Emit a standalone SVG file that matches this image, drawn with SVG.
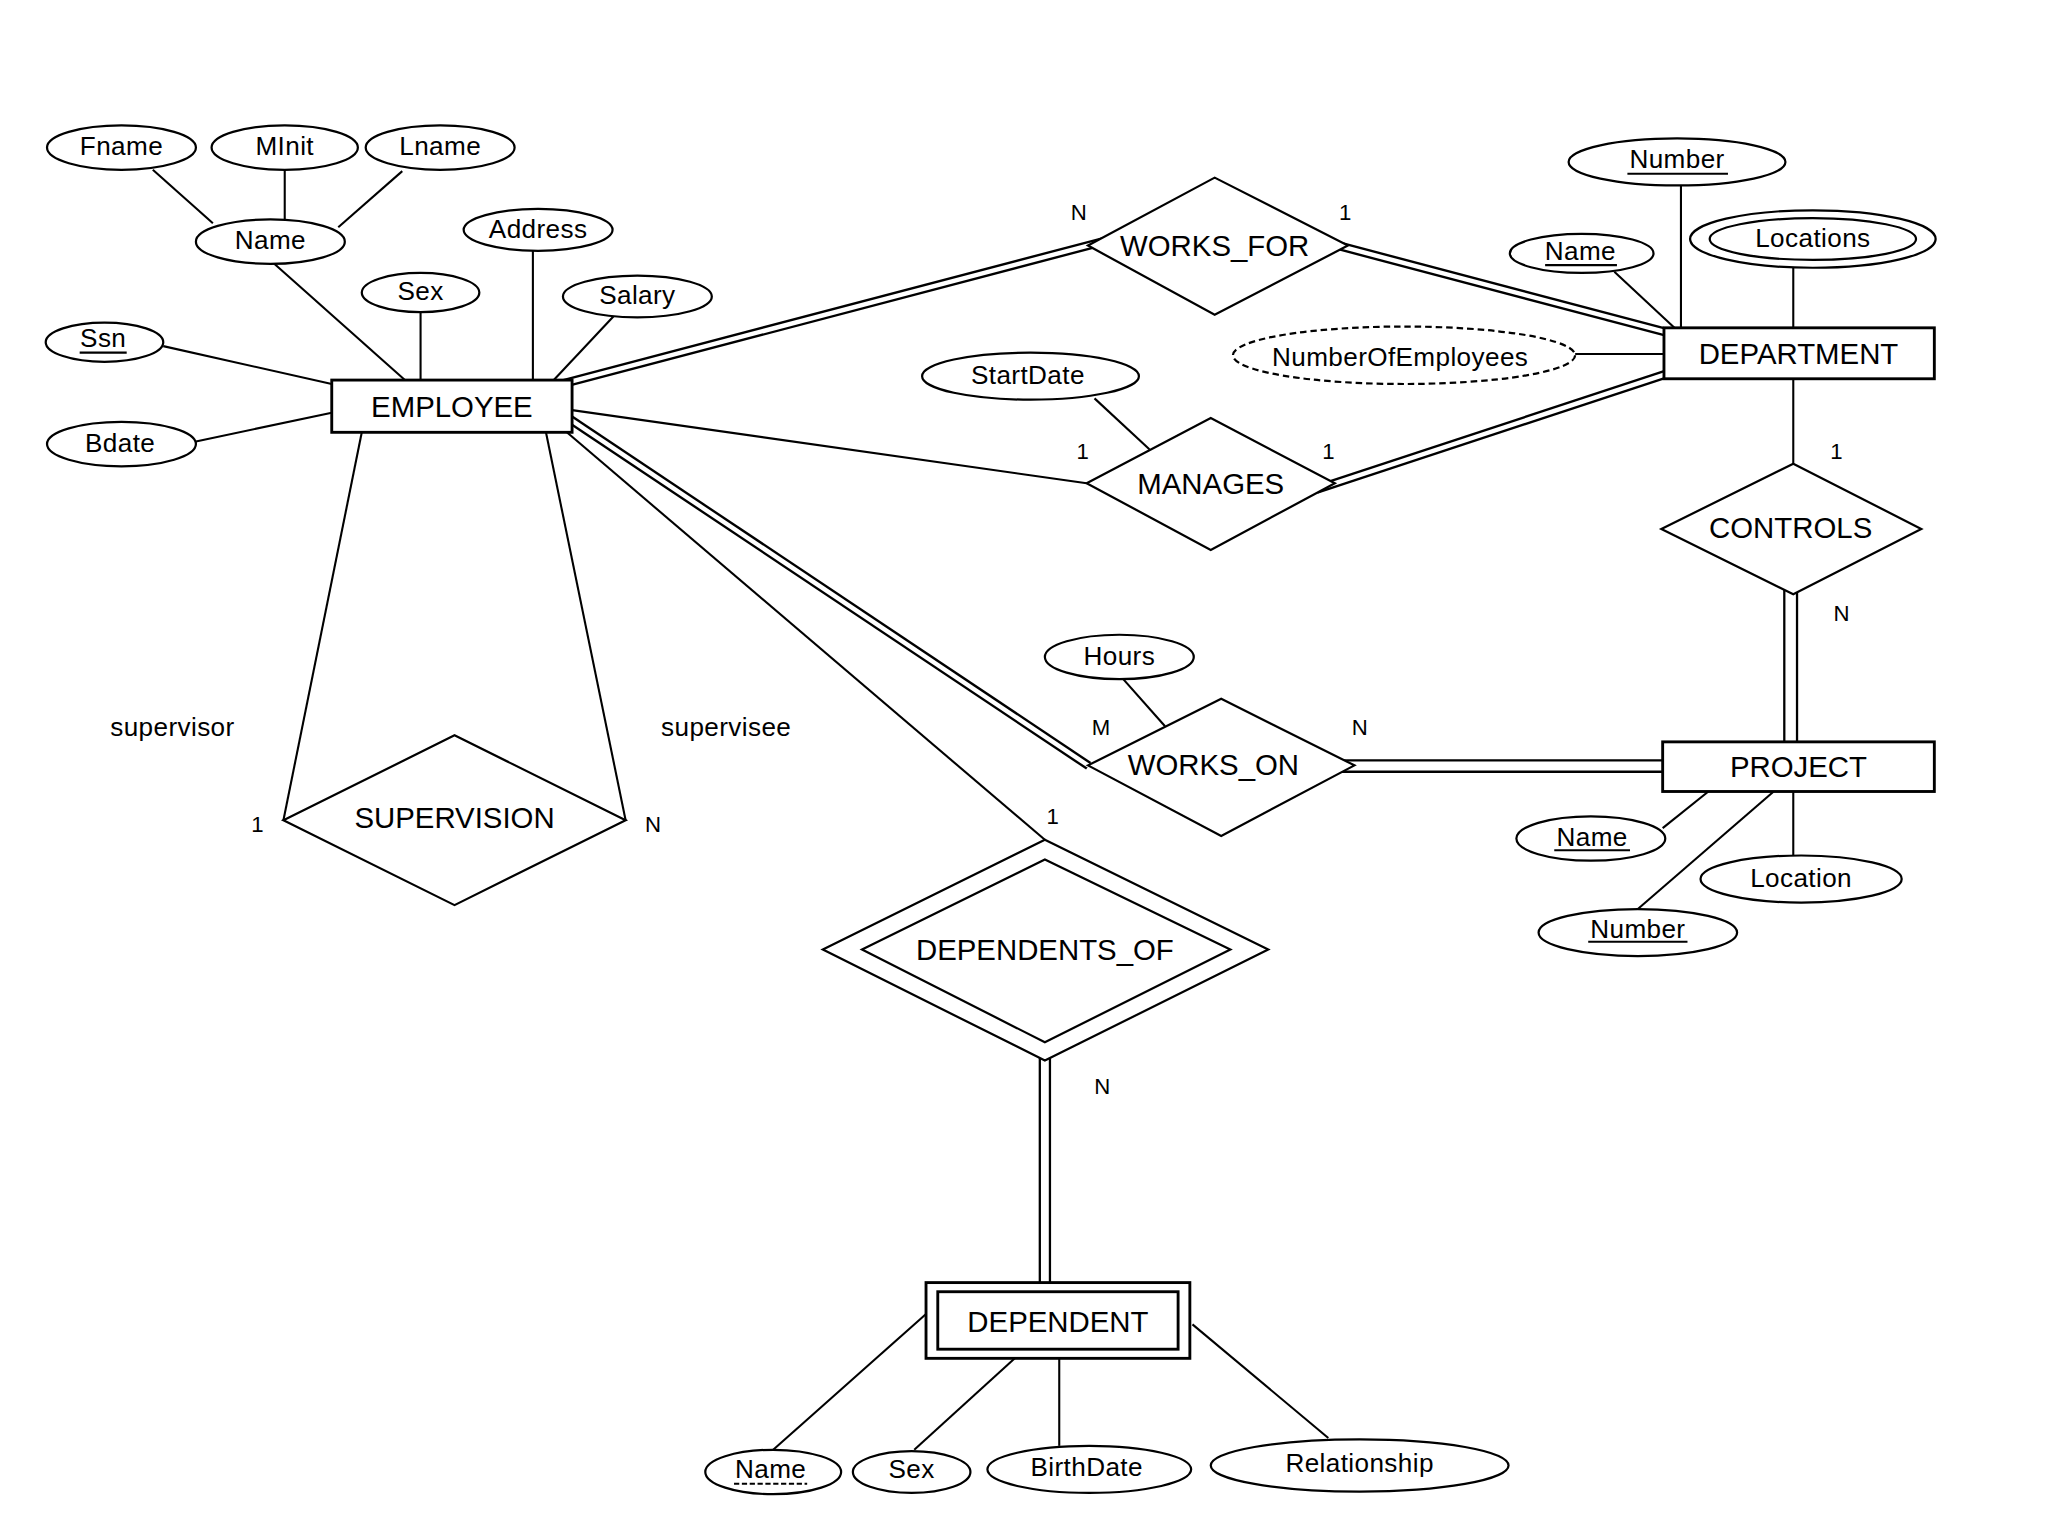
<svg xmlns="http://www.w3.org/2000/svg" xmlns:xlink="http://www.w3.org/1999/xlink" width="2048" height="1536" viewBox="0 0 2048 1536">
<style>
.ent{fill:#fff;stroke:#000;stroke-width:2.2}
.rel{fill:#fff;stroke:#000;stroke-width:1.7}
.att{fill:#fff;stroke:#000;stroke-width:1.7}
.der{fill:#fff;stroke:#000;stroke-width:1.7;stroke-dasharray:5 3}
.ln{stroke:#000;stroke-width:1.6;fill:none}
.ul{stroke:#000;stroke-width:1.6;fill:none}
.uld{stroke:#000;stroke-width:1.6;fill:none;stroke-dasharray:4 2}
.dbl{stroke:#000;stroke-width:7;fill:none}
.dblw{stroke:#fff;stroke-width:3.4;fill:none}
.dblh{stroke-width:10.5}
.dblhw{stroke-width:7}
.dblv{stroke-width:11.5}
.dblvw{stroke-width:8}
.dbld{stroke-width:9.5}
.dbldw{stroke-width:6}
text{font-family:"Liberation Sans",Arial,sans-serif;fill:#000;text-anchor:middle;dominant-baseline:central}
.te{font-size:22.5px}
.ta{font-size:20px;letter-spacing:0.3px}
.tc{font-size:17px}
</style>
<defs>
<path id="d1" d="M428.3 294.5 L847.5 184.2"/>
<path id="d2" d="M1017.5 186.2 L1285.6 257"/>
<path id="d3" d="M1007.8 374.7 L1285.4 283.2"/>
<path id="d4" d="M1371 440 L1371 580"/>
<path id="d5" d="M429.7 316.5 L833.5 586.3"/>
<path id="d6" d="M1020 586.5 L1285 586.5"/>
<path id="d7" d="M800 798 L800 990"/>
</defs>
<rect x="0" y="0" width="2048" height="1536" fill="#fff"/>
<g transform="scale(1.3061)">
<g id="connectors">
<g class="dbl">
<use xlink:href="#d1"/><use xlink:href="#d2"/><use xlink:href="#d3"/><use xlink:href="#d5"/>
<use xlink:href="#d4" class="dblv"/><use xlink:href="#d6" class="dblh"/><use xlink:href="#d7" class="dbld"/>
</g>
<g class="dblw">
<use xlink:href="#d1"/><use xlink:href="#d2"/><use xlink:href="#d3"/><use xlink:href="#d5"/>
<use xlink:href="#d4" class="dblvw"/><use xlink:href="#d6" class="dblhw"/><use xlink:href="#d7" class="dbldw"/>
</g>
<g class="ln">
<path d="M117 130 L163 171"/>
<path d="M218 130 L218 168"/>
<path d="M308 131 L259 174"/>
<path d="M210 202 L310 291"/>
<path d="M322 239 L322 291"/>
<path d="M408 192 L408 291"/>
<path d="M470 242 L424 291"/>
<path d="M125 265 L254 294"/>
<path d="M150 338 L254 316"/>
<path d="M438 314 L832 370"/>
<path d="M838 305 L880 344"/>
<path d="M1287 142 L1287 251"/>
<path d="M1236 208 L1282 251"/>
<path d="M1373 205 L1373 251"/>
<path d="M1206 271 L1274 271"/>
<path d="M1373 290 L1373 355"/>
<path d="M277 331 L217 628"/>
<path d="M418 331 L479 628"/>
<path d="M434 331 L800 643"/>
<path d="M860 520 L892 556"/>
<path d="M1273 634 L1308 606"/>
<path d="M1373 606 L1373 655"/>
<path d="M1254 696 L1358 606"/>
<path d="M592 1110 L709 1006"/>
<path d="M700 1110 L777 1040"/>
<path d="M811 1040 L811 1107"/>
<path d="M1017 1101 L913 1014"/>
</g>
</g>

<g id="employee"><rect class="ent" x="254" y="291" width="184" height="40"/><text class="te" x="346" y="311">EMPLOYEE</text></g>
<g id="department"><rect class="ent" x="1274" y="251" width="207" height="39"/><text class="te" x="1377" y="271">DEPARTMENT</text></g>
<g id="project"><rect class="ent" x="1273" y="568" width="208" height="38"/><text class="te" x="1377" y="587">PROJECT</text></g>
<g id="dependent"><rect class="ent" x="709" y="982" width="202" height="58"/><rect class="ent" x="718" y="989" width="184" height="44"/><text class="te" x="810" y="1012">DEPENDENT</text></g>

<g id="works_for"><polygon class="rel" points="833,188 930,136 1032,188 930,241"/><text class="te" x="930" y="188">WORKS_FOR</text></g>
<g id="manages"><polygon class="rel" points="832,370 927,320 1022,370 927,421"/><text class="te" x="927" y="370">MANAGES</text></g>
<g id="controls"><polygon class="rel" points="1272,405 1373,355 1471,405 1373,455"/><text class="te" x="1371" y="404">CONTROLS</text></g>
<g id="works_on"><polygon class="rel" points="833,586 935,535 1037,586 935,640"/><text class="te" x="929" y="585">WORKS_ON</text></g>
<g id="supervision"><polygon class="rel" points="217,628 348,563 479,628 348,693"/><text class="te" x="348" y="626">SUPERVISION</text></g>
<g id="dependents_of"><polygon class="rel" points="630,727 800,643 971,727 800,812"/><polygon class="rel" points="660,727 800,658 942,727 800,798"/><text class="te" x="800" y="727">DEPENDENTS_OF</text></g>

<g id="emp_fname"><ellipse class="att" cx="93" cy="113" rx="57" ry="17"/><text class="ta" x="93" y="112">Fname</text></g>
<g id="emp_minit"><ellipse class="att" cx="218" cy="113" rx="56" ry="17"/><text class="ta" x="218" y="112">MInit</text></g>
<g id="emp_lname"><ellipse class="att" cx="337" cy="113" rx="57" ry="17"/><text class="ta" x="337" y="112">Lname</text></g>
<g id="emp_name"><ellipse class="att" cx="207" cy="185" rx="57" ry="17"/><text class="ta" x="207" y="184">Name</text></g>
<g id="emp_address"><ellipse class="att" cx="412" cy="176" rx="57" ry="16"/><text class="ta" x="412" y="175">Address</text></g>
<g id="emp_sex"><ellipse class="att" cx="322" cy="224" rx="45" ry="15"/><text class="ta" x="322" y="223">Sex</text></g>
<g id="emp_salary"><ellipse class="att" cx="488" cy="227" rx="57" ry="16"/><text class="ta" x="488" y="226">Salary</text></g>
<g id="emp_ssn"><ellipse class="att" cx="80" cy="262" rx="45" ry="15"/><text class="ta" x="79" y="259">Ssn</text><path class="ul" d="M61 270 L97 270"/></g>
<g id="emp_bdate"><ellipse class="att" cx="93" cy="340" rx="57" ry="17"/><text class="ta" x="92" y="339">Bdate</text></g>

<g id="dept_number"><ellipse class="att" cx="1284" cy="124" rx="83" ry="18"/><text class="ta" x="1284" y="122">Number</text><path class="ul" d="M1246 133 L1323 133"/></g>
<g id="dept_name"><ellipse class="att" cx="1211" cy="194" rx="55" ry="15"/><text class="ta" x="1210" y="192">Name</text><path class="ul" d="M1183 203 L1238 203"/></g>
<g id="dept_locations"><ellipse class="att" cx="1388" cy="183" rx="94" ry="22"/><ellipse class="att" cx="1388" cy="183" rx="79" ry="16"/><text class="ta" x="1388" y="182">Locations</text></g>
<g id="dept_numemp"><ellipse class="der" cx="1075" cy="272" rx="131" ry="22"/><text class="ta" x="1072" y="273">NumberOfEmployees</text></g>

<g id="man_startdate"><ellipse class="att" cx="789" cy="288" rx="83" ry="18"/><text class="ta" x="787" y="287">StartDate</text></g>
<g id="won_hours"><ellipse class="att" cx="857" cy="503" rx="57" ry="17"/><text class="ta" x="857" y="502">Hours</text></g>

<g id="proj_name"><ellipse class="att" cx="1218" cy="642" rx="57" ry="17"/><text class="ta" x="1219" y="641">Name</text><path class="ul" d="M1190 651 L1248 651"/></g>
<g id="proj_location"><ellipse class="att" cx="1379" cy="673" rx="77" ry="18"/><text class="ta" x="1379" y="672">Location</text></g>
<g id="proj_number"><ellipse class="att" cx="1254" cy="714" rx="76" ry="18"/><text class="ta" x="1254" y="711">Number</text><path class="ul" d="M1216 721 L1292 721"/></g>

<g id="dep_name"><ellipse class="att" cx="592" cy="1127" rx="52" ry="17"/><text class="ta" x="590" y="1125">Name</text><path class="uld" d="M562 1136 L618 1136"/></g>
<g id="dep_sex"><ellipse class="att" cx="698" cy="1127" rx="45" ry="16"/><text class="ta" x="698" y="1125">Sex</text></g>
<g id="dep_birthdate"><ellipse class="att" cx="834" cy="1125" rx="78" ry="18"/><text class="ta" x="832" y="1123">BirthDate</text></g>
<g id="dep_relationship"><ellipse class="att" cx="1041" cy="1122" rx="114" ry="20"/><text class="ta" x="1041" y="1120">Relationship</text></g>

<g id="labels">
<text class="tc" x="826" y="163">N</text>
<text class="tc" x="1030" y="163">1</text>
<text class="tc" x="829" y="346">1</text>
<text class="tc" x="1017" y="346">1</text>
<text class="tc" x="1406" y="346">1</text>
<text class="tc" x="1410" y="470">N</text>
<text class="tc" x="843" y="557">M</text>
<text class="tc" x="1041" y="557">N</text>
<text class="tc" x="197" y="631">1</text>
<text class="tc" x="500" y="631">N</text>
<text class="tc" x="806" y="625">1</text>
<text class="tc" x="844" y="832">N</text>
<text class="ta" x="132" y="557">supervisor</text>
<text class="ta" x="556" y="557">supervisee</text>
</g>
</g>
</svg>
